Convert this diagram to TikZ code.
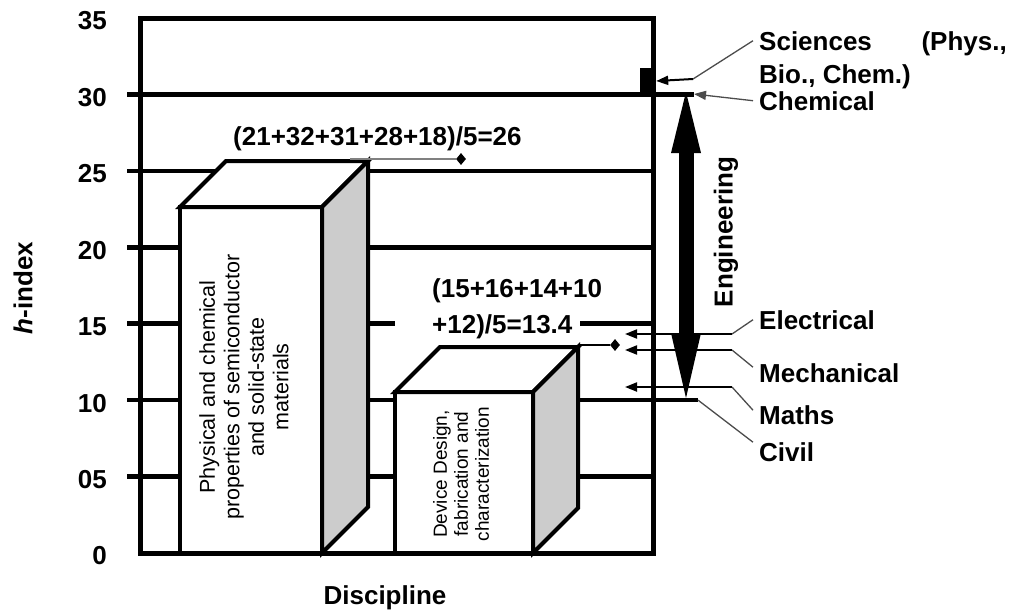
\documentclass[tikz,border=0pt]{standalone}
\usepackage{fontspec}
\setmainfont{Liberation Sans}
\usetikzlibrary{arrows.meta,shapes.geometric}

\tikzset{
  gridline/.style={line width=4.5pt},
  lbl/.style={font=\bfseries\fontsize{26}{36}\selectfont, inner sep=0pt},
  sidelbl/.style={lbl, inner xsep=6pt, anchor=base west},
  lead/.style={line width=1.3pt, draw=black!70},
  pointer/.style={line width=2pt, -{Triangle[length=12pt,width=9pt]}},
  boxface/.style={draw, line width=4pt, fill=white},
  sideface/.style={draw, line width=4pt, fill=black!20},
  avgdot/.style={diamond, fill=black, inner sep=0pt, minimum width=10pt, minimum height=12pt},
}

\begin{document}
\begin{tikzpicture}[x=1pt, y=-1pt]
    \useasboundingbox (0,0) rectangle (1011,611);

    % Grid lines
    \foreach \v in {25,20,5}
        \draw[gridline] (127,{553-15.286*\v}) -- (653,{553-15.286*\v});
    \draw[gridline] (127,94.4) -- (694,94.4);
    \draw[gridline] (127,400.1) -- (698,400.1);
    \draw[gridline] (127,323.7) -- (395,323.7);
    \draw[gridline] (580,323.7) -- (653,323.7);

    % Axis labels
    \foreach \v/\t in {35/35,30/30,25/25,20/20,15/15,10/10,5/05,0/0}
        \node[lbl, anchor=east] (tick\v) at (107,{556-15.286*\v}) {\t};
    \node[lbl, rotate=90] (hidx) at (23,288) {\textit{h}-index};
    \node[lbl] (disc) at (385,598) {Discipline};

    % Tall box
    \draw[boxface] (180,207) rectangle (322,553);
    \draw[boxface] (180,207) -- (226,161) -- (368,161) -- (322,207) -- cycle;
    \draw[sideface] (322,207) -- (368,161) -- (368,507) -- (322,553) -- cycle;
    \node[rotate=90, align=center, inner sep=0pt, font=\fontsize{21.5}{24.5}\selectfont] (physbox) at (244,387)
        {Physical and chemical\\properties of semiconductor\\and solid-state\\materials};

    % Small box
    \draw[boxface] (395,392) rectangle (533,553);
    \draw[boxface] (395,392) -- (440,347) -- (578,347) -- (533,392) -- cycle;
    \draw[sideface] (533,392) -- (578,347) -- (578,508) -- (533,553) -- cycle;
    \node[rotate=90, align=center, inner sep=0pt, font=\fontsize{19}{21}\selectfont] (devbox) at (461,474)
        {Device Design,\\fabrication and\\characterization};

    % Frame
    \draw[line width=5pt] (140,18) rectangle (653,553);

    % Averages
    \node[lbl, anchor=base west] (avg26) at (233,145) {(21+32+31+28+18)/5=26};
    \node[avgdot] (dot26) at (461,159) {};
    \draw[line width=2pt, black!50] (350,159) -- (dot26);
    \node[lbl, anchor=west, align=left] (avg134) at (432,309) {(15+16+14+10\\+12)/5=13.4};
    \node[avgdot] (dot134) at (615,345) {};
    \draw[line width=2pt] (578,345) -- (dot134);

    % Engineering range
    \coordinate (engtop) at (686,92);
    \coordinate (engbot) at (686,398);
    \draw[line width=15pt, {Triangle[length=61pt,width=30pt,line width=0pt]}-{Triangle[length=65pt,width=30pt,line width=0pt]}] (engtop) -- (engbot);
    \node[lbl, rotate=90] (eng) at (726,232) {Engineering};

    % Discipline labels
    \node[fill=black, inner sep=0pt, minimum width=14pt, minimum height=26pt] (scibar) at (647,81) {};
    \node[sidelbl] (sci) at (753,50) {Sciences};
    \node[lbl, anchor=base east] (physlbl) at (1007,50) {(Phys.,};
    \node[lbl, anchor=base west] (bio) at (759,83) {Bio., Chem.)};
    \node[sidelbl] (chem) at (753,110) {Chemical};
    \node[sidelbl] (elec) at (753,329) {Electrical};
    \node[sidelbl] (mech) at (753,382) {Mechanical};
    \node[sidelbl] (maths) at (753,424) {Maths};
    \node[sidelbl] (civil) at (753,461) {Civil};

    \coordinate (scibend) at (693,79);
    \coordinate (chemtip) at (694,94);
    \coordinate (elecbend) at (732,334);
    \coordinate (electip) at (625,334);
    \coordinate (mechbend) at (732,350);
    \coordinate (mechtip) at (625,350);
    \coordinate (mathsbend) at (732,387);
    \coordinate (mathstip) at (625,387);
    \coordinate (civilbend) at (698,400.1);

    % Leaders
    \draw[lead] (sci.west) -- (scibend);
    \draw[pointer] (scibend) -- ([xshift=2pt]scibar.east);
    \draw[lead, -{Triangle[length=12pt,width=9pt]}] (chem.west) -- (chemtip);
    \draw[lead] (elec.west) -- (elecbend);
    \draw[pointer] (elecbend) -- (electip);
    \draw[lead] ([yshift=5.5pt]mech.west) -- (mechbend);
    \draw[pointer] (mechbend) -- (mechtip);
    \draw[lead] ([yshift=4.5pt]maths.west) -- (mathsbend);
    \draw[pointer] (mathsbend) -- (mathstip);
    \draw[lead] ([yshift=9.5pt]civil.west) -- (civilbend);
\end{tikzpicture}
\end{document}
